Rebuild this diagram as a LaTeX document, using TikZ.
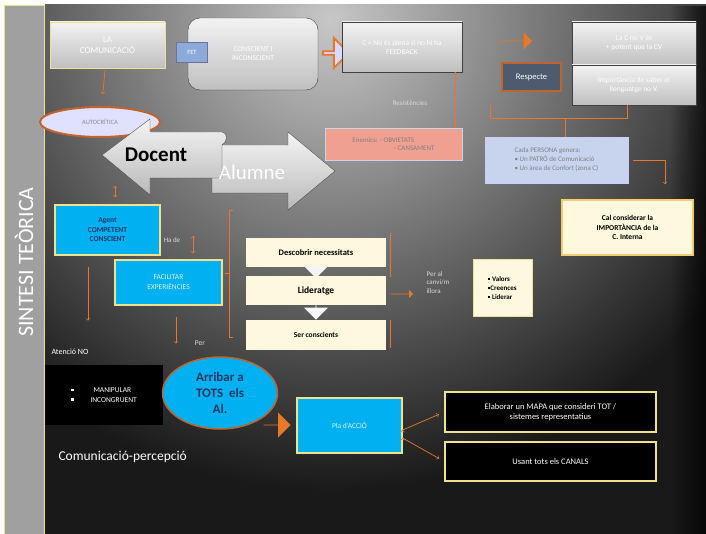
\documentclass[tikz,border=0pt]{standalone}
\usepackage{fontspec}
\setmainfont{Carlito}
\usetikzlibrary{positioning,shapes.geometric,shapes.arrows,fadings}
\definecolor{orng}{RGB}{232,120,40}
\definecolor{brwn}{RGB}{192,100,45}
\definecolor{cyanb}{RGB}{0,176,240}
\definecolor{ybord}{RGB}{240,225,140}
\definecolor{cream}{RGB}{253,248,222}
\definecolor{navy}{RGB}{31,56,100}
\definecolor{slate}{RGB}{78,90,110}
\definecolor{pinkb}{RGB}{240,160,145}
\definecolor{lblue}{RGB}{200,212,238}
\definecolor{fetblue}{RGB}{142,170,219}
\definecolor{sidegray}{RGB}{160,160,160}
\newcommand\sqb{\rule[0.2em]{0.3em}{0.3em}}
\begin{document}
\begin{tikzpicture}[x=1pt,y=-1pt,
  gbox/.style={draw=black!75,top color=white!90!gray,bottom color=gray!50,text=white,align=center,font=\fontsize{7.5}{9}\selectfont},
  cbox/.style={draw=ybord,line width=1.2pt,fill=cyanb,align=center},
  kbox/.style={draw=ybord,line width=1.2pt,fill=black,text=white,align=center,font=\fontsize{8.5}{10.5}\selectfont,minimum width=211pt},
  crm/.style={fill=cream,text=black,minimum width=140pt},
  note/.style={text=gray!30,font=\fontsize{7}{8.5}\selectfont,align=left},
  blk/.style={single arrow,inner sep=0pt},
  link/.style={draw=orng,line width=0.7pt,->},
  line/.style={draw=orng,line width=0.7pt}]
\useasboundingbox (0,0) rectangle (706,534);
\begin{scope}
\clip (45,5) rectangle (706,534);
\fill[black!90] (45,5) rectangle (706,534);
\shade[inner color=black!22,outer color=black!90] (330,20) circle (470);
\fill[black,opacity=0.7,path fading=west] (670,5) rectangle (706,534);
\end{scope}
\draw[draw=ybord,fill=sidegray] (4,5) rectangle (44,534);
\node (ST) [rotate=90,text=white,font=\fontsize{22}{22}\selectfont] at (24,262) {SINTESI TEÒRICA};

\node (LC) [gbox,draw=ybord,minimum width=115pt,minimum height=46pt,font=\fontsize{9}{11}\selectfont] at (107.5,45) {LA\\COMUNICACIÓ};
\node (AU) [ellipse,draw=brwn,line width=2pt,fill=white!88!blue,minimum width=120pt,minimum height=30pt,inner sep=0pt,text=black!45,font=\fontsize{6.5}{7}\selectfont] at (100,122) {AUTOCRÍTICA};
\node (CI) [gbox,rounded corners=12pt,minimum width=130pt,minimum height=72pt] at (253,54) {CONSCIENT I\\INCONSCIENT};
\node (FT) [draw=black!30!fetblue,fill=fetblue,text=white,minimum width=31pt,minimum height=20pt,inner sep=0pt,font=\fontsize{6.5}{7}\selectfont] at (192,52) {FET};
\node (H1) [blk,draw=orng,line width=1.8pt,fill=white!85!blue,minimum height=26pt,minimum width=30pt,single arrow head extend=7pt] at (335,53) {};
\node (C) [gbox,minimum width=120pt,minimum height=50pt] at (402,47) {C = No és plena si no hi ha\\FEEDBACK};
\node (O1) [blk,fill=orng,minimum height=32pt,minimum width=17pt,single arrow head extend=3.5pt] at (516,41) {};
\node (RS) [draw=brwn,line width=2pt,fill=slate,text=white,minimum width=59pt,minimum height=28pt,font=\fontsize{8.5}{9}\selectfont] at (531.5,77) {Respecte};
\node (R1) [gbox,minimum width=124pt,minimum height=43pt] at (634,43.5) {La C no V és\\+ potent que la CV};
\node (R2) [gbox,minimum width=124pt,minimum height=40pt] at (634,85) {Importància de saber el\\llenguatge no V.};
\node (RE) [note] at (410,103) {Resistències};
\node (P) [draw=lblue,fill=pinkb,minimum width=137pt,minimum height=32pt,align=left,text=black!50,font=\fontsize{7}{8.5}\selectfont] at (393.5,144) {Enemics: - OBVIETATS\\\phantom{Enemics: OBVI}- CANSAMENT};
\node (B) [draw=white!80!blue,fill=lblue,minimum width=143pt,minimum height=46pt,align=left,text=black!50,font=\fontsize{7}{9}\selectfont] at (556.5,160) {Cada PERSONA genera:\\• Un PATRÓ de Comunicació\\• Un àrea de Confort (zona C)};
\node (Y) [draw=ybord!80!orange,line width=1.5pt,fill=cream,minimum width=131pt,minimum height=55pt,align=center,font=\bfseries\fontsize{7.5}{9.5}\selectfont] at (627.5,227.5) {Cal considerar la\\IMPORTÀNCIA de la\\C. Interna};

\draw[draw=black!70,top color=white!92!gray,bottom color=gray!55] (212,145) -- (288,145) -- (288,132) -- (335,171) -- (288,210) -- (288,193) -- (212,193) -- cycle;
\draw[draw=black!70,top color=white!92!gray,bottom color=gray!55] (102,155) -- (150,119) -- (150,132) -- (222,132) .. controls (228,132) and (228,142) .. (222,145) -- (222,178) -- (150,178) -- (150,195) -- cycle;
\node (DO) [font=\bfseries\fontsize{21}{21}\selectfont] at (156,155) {Docent};
\node (AL) [text=white,font=\fontsize{21}{21}\selectfont] at (252,172) {Alumne};

\node (AG) [cbox,minimum width=105pt,minimum height=50pt,text=navy,font=\bfseries\fontsize{7.5}{9.5}\selectfont] at (107.5,230) {Agent\\COMPETENT\\CONSCIENT};
\node (HD) [note] at (172,240) {Ha de};
\node (FA) [cbox,minimum width=107pt,minimum height=45pt,text=white!85!cyanb,font=\fontsize{7.5}{10}\selectfont] at (168.5,282.5) {FACILITAR\\EXPERIÈNCIES};
\node (PR) [note,font=\fontsize{7.5}{8}\selectfont] at (200,343) {Per};

\node (D1) [crm,minimum height=29pt,font=\bfseries\fontsize{8.5}{9}\selectfont] at (316,252.5) {Descobrir necessitats};
\node (D2) [crm,minimum height=29pt,font=\bfseries\fontsize{9.5}{10}\selectfont] at (316,290.5) {Lideratge};
\node (D3) [crm,minimum height=30pt,font=\bfseries\fontsize{7.5}{8}\selectfont] at (316,335) {Ser conscients};
\node (W1) [blk,fill=white!92!gray,shape border rotate=270,minimum height=14pt,minimum width=24pt,single arrow head extend=5pt] at (316,271) {};
\node (W2) [blk,fill=white!92!gray,shape border rotate=270,minimum height=17pt,minimum width=24pt,single arrow head extend=5pt] at (316,311) {};
\node (O2) [blk,fill=orng,minimum height=22pt,minimum width=8pt,single arrow head extend=2pt] at (402,294) {};
\node (PA) [note,anchor=north west] at (423,268) {Per al\\canvi/m\\illora};
\node (VL) [draw=ybord,line width=1pt,fill=cream,minimum width=59pt,minimum height=56pt,align=left,font=\bfseries\fontsize{7}{9}\selectfont] at (502.5,288) {\sqb\ Valors\\\sqb Creences\\\sqb\ Liderar};

\node (AN) [anchor=west,text=white,font=\fontsize{8}{9}\selectfont] at (48,352) {Atenció NO};
\node (MN) [fill=black,minimum width=118pt,minimum height=60pt,text=white,align=left,font=\fontsize{7.5}{9.5}\selectfont] at (104,395) {\sqb\hspace{20pt}MANIPULAR\\\sqb\hspace{17pt}INCONGRUENT};
\node (AR) [ellipse,draw=brwn,line width=1.5pt,fill=cyanb,minimum width=115pt,minimum height=72pt,inner sep=0pt,align=center,text=navy,font=\bfseries\fontsize{13}{16}\selectfont] at (220,393) {Arribar a\\TOTS\ \ els\\Al.};
\node (O3) [blk,fill=orng,minimum height=27pt,minimum width=25pt,single arrow head extend=5.5pt] at (277,425) {};
\node (PL) [cbox,minimum width=105pt,minimum height=55pt,text=white!85!cyanb,font=\fontsize{7.5}{9}\selectfont] at (349.5,425.5) {Pla d'ACCIÓ};
\node (E1) [kbox,minimum height=40pt] at (550.5,412) {Elaborar un MAPA que consideri TOT /\\sistemes representatius};
\node (E2) [kbox,minimum height=39pt] at (550.5,461.5) {Usant tots els CANALS};
\node (CP) [anchor=west,text=white,font=\fontsize{13.5}{15}\selectfont] at (55,457) {Comunicació-percepció};

\coordinate (c1) at ([xshift=-7pt]C.south east);
\coordinate (r1) at ([xshift=-7pt]R2.south);
\coordinate (bk) at (490,105);
\coordinate (jn) at (565,118);
\coordinate (y1) at ([xshift=37.5pt]Y.north);
\coordinate (da) at (115,186);
\coordinate (hd) at (193,236);
\path[link] (LC) edge[shorten <=2pt,shorten >=12pt] (AU);
\path[link] (c1) edge (c1 |- P.north);
\draw[line] (r1) -- ++(0,13) -| (bk);
\draw[line] (jn) -- (jn |- B.north);
\draw[link,shorten <=5pt,shorten >=15pt] (B.east) -| (y1);
\path[link] (da) edge[shorten >=7pt] (da |- AG.north);
\path[link] (hd) edge[shorten >=6pt] (hd |- FA.north);
\draw[link,shorten <=11pt] ([xshift=-19.5pt]AG.south) -- ++(0,65);
\draw[link,shorten <=11pt] ([xshift=7.5pt]FA.south) -- ++(0,38);
\draw[line] (233,210) -- (229,210) -- (229,337) -- (233,337) (229,273) -- (225,273);
\draw[line] (390,233) -- (390,277) (390,320) -- (390,348);
\path[link] ([yshift=-4.5pt]PL.east) edge[shorten >=6pt] (E1.west);
\path[link] ([yshift=-12.5pt]PL.east) edge[shorten >=6pt] (E2.west);
\end{tikzpicture}
\end{document}
